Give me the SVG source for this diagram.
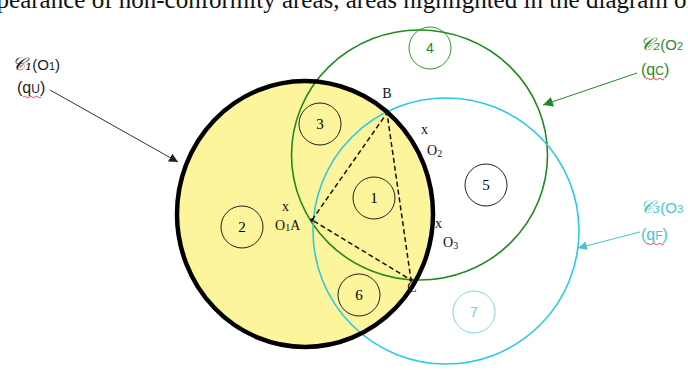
<svg xmlns="http://www.w3.org/2000/svg" width="688" height="370" viewBox="0 0 688 370">
<style>
.serif{font-family:"Liberation Serif","Times New Roman",serif;fill:#111}
.sans{font-family:"Liberation Sans",Arial,sans-serif}
.num{font-family:"Liberation Serif","Times New Roman",serif;font-size:15px;text-anchor:middle}
.scr{font-family:"DejaVu Serif","Noto Sans",serif;font-style:italic}
.dash{stroke:#111;stroke-width:1.5;stroke-dasharray:5 3;fill:none}
.wave{stroke:#d33;stroke-width:0.9;fill:none}
</style>
<defs>
<marker id="ah" viewBox="0 0 10 10" refX="10" refY="5" markerWidth="9" markerHeight="9" markerUnits="userSpaceOnUse" orient="auto"><path d="M0,0 L10,5 L0,10 Z" fill="#222"/></marker>
<marker id="ahg" viewBox="0 0 10 10" refX="10" refY="5" markerWidth="10" markerHeight="10" markerUnits="userSpaceOnUse" orient="auto"><path d="M0,0 L10,5 L0,10 Z" fill="#1f8a1f"/></marker>
<marker id="ahc" viewBox="0 0 10 10" refX="10" refY="5" markerWidth="9" markerHeight="9" markerUnits="userSpaceOnUse" orient="auto"><path d="M0,0 L10,5 L0,10 Z" fill="#48c4cc"/></marker>
</defs>

<text class="serif" x="-27" y="8" font-size="25">appearance of non-conformity areas, areas highlighted in the diagram of</text>

<g id="c1-fill"><ellipse cx="305" cy="214" rx="128" ry="133" fill="#fdf59b"/></g>
<g id="c2"><ellipse cx="419.5" cy="155" rx="128" ry="125" fill="none" stroke="#1f8a1f" stroke-width="1.6"/></g>
<g id="c3"><circle cx="446" cy="231" r="133" fill="none" stroke="#2cc8e4" stroke-width="1.6"/></g>
<g id="c1"><ellipse cx="305" cy="214" rx="128" ry="133" fill="none" stroke="#000" stroke-width="4.5"/></g>

<g id="triangle">
<path class="dash" d="M312,220 L387,113 L411,280 Z"/>
<circle cx="312" cy="220" r="1.8" fill="#111"/>
<circle cx="387" cy="113" r="1.8" fill="#111"/>
<circle cx="411" cy="280" r="1.8" fill="#111"/>
</g>

<g id="area1"><circle cx="374" cy="198" r="21" fill="none" stroke="#222"/><text class="num" x="374" y="203">1</text></g>
<g id="area2"><circle cx="242" cy="227" r="21" fill="none" stroke="#222"/><text class="num" x="242" y="232">2</text></g>
<g id="area3"><circle cx="320" cy="124" r="21" fill="none" stroke="#222"/><text class="num" x="320" y="129">3</text></g>
<g id="area4"><circle cx="430" cy="48" r="21" fill="none" stroke="#1f8a1f" stroke-width="0.9"/><text class="num" x="430" y="53" fill="#1f8a1f" style="font-family:'Liberation Sans',Arial,sans-serif;font-size:14px">4</text></g>
<g id="area5"><circle cx="486" cy="185" r="21" fill="none" stroke="#222"/><text class="num" x="486" y="190">5</text></g>
<g id="area6"><circle cx="359" cy="295" r="21" fill="none" stroke="#222"/><text class="num" x="359" y="300">6</text></g>
<g id="area7"><circle cx="474" cy="312" r="21" fill="none" stroke="#6fd2da" stroke-width="0.9"/><text class="num" x="474" y="317" fill="#6fd2da" style="font-family:'Liberation Sans',Arial,sans-serif;font-size:14px">7</text></g>

<g id="points" class="serif" font-size="14">
<text x="387" y="98" text-anchor="middle">B</text>
<text x="421" y="134">x</text>
<text x="427" y="155">O<tspan font-size="10" dy="2">2</tspan></text>
<text x="282" y="211">x</text>
<text x="275" y="230">O<tspan font-size="10" dy="1">1</tspan><tspan dy="-1">A</tspan></text>
<text x="435" y="228">x</text>
<text x="443" y="247">O<tspan font-size="10" dy="2">3</tspan></text>
<text x="412" y="292" text-anchor="middle">C</text>
</g>

<g id="connectors" fill="none">
<line x1="50" y1="90" x2="178" y2="162" stroke="#333" stroke-width="1" marker-end="url(#ah)"/>
<line x1="637" y1="73" x2="543" y2="105" stroke="#1f8a1f" stroke-width="1" marker-end="url(#ahg)"/>
<line x1="640" y1="232" x2="578" y2="248" stroke="#48c4cc" stroke-width="1" marker-end="url(#ahc)"/>
</g>

<g id="label1">
<text x="12" y="70" font-size="18" fill="#222"><tspan class="scr">𝒞₁</tspan><tspan class="sans" font-size="15">(O</tspan><tspan class="sans" font-size="11">1</tspan><tspan class="sans" font-size="15">)</tspan></text>
<text class="sans" x="17" y="93" font-size="16" fill="#222">(q<tspan font-size="12">U</tspan>)</text>
<path class="wave" d="M23,97 q1.5,-1.5 3,0 t3,0 t3,0 t3,0 t3,0 t3,0"/>
</g>
<g id="label2" fill="#2a8a2a">
<text x="640" y="50" font-size="18"><tspan class="scr" fill="#2a8a2a">𝒞₂</tspan><tspan class="sans" font-size="15">(O</tspan><tspan class="sans" font-size="11">2</tspan></text>
<text class="sans" x="641" y="75" font-size="16">(q<tspan font-size="12">C</tspan>)</text>
<path class="wave" d="M646,79 q1.5,-1.5 3,0 t3,0 t3,0 t3,0 t3,0 t3,0"/>
</g>
<g id="label3" fill="#48c4cc">
<text x="640" y="213" font-size="18"><tspan class="scr" fill="#48c4cc">𝒞₃</tspan><tspan class="sans" font-size="15">(O</tspan><tspan class="sans" font-size="11">3</tspan></text>
<text class="sans" x="641" y="240" font-size="16">(q<tspan font-size="12">F</tspan>)</text>
<path class="wave" d="M646,244 q1.5,-1.5 3,0 t3,0 t3,0 t3,0 t3,0 t3,0"/>
</g>
</svg>
